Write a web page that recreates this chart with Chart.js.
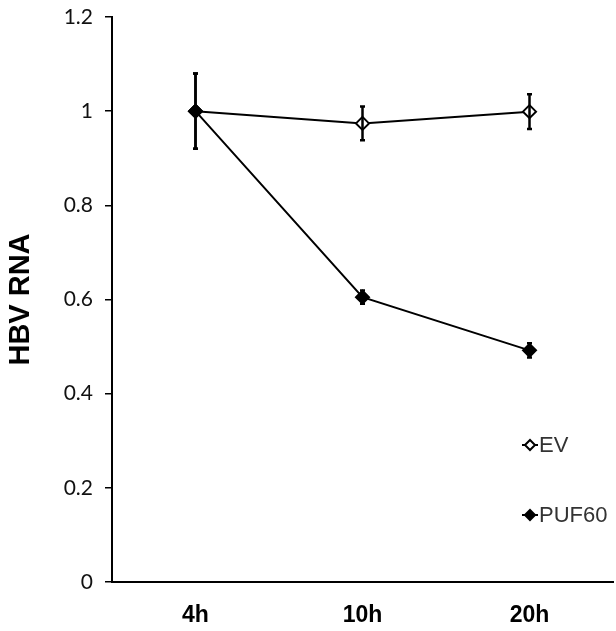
<!DOCTYPE html>
<html>
<head>
<meta charset="utf-8">
<script src="https://cdn.jsdelivr.net/npm/chart.js@4.4.1/dist/chart.umd.min.js"></script>
<style>
  html, body { margin: 0; padding: 0; background: #fff; }
  #wrap { width: 616px; height: 631px; }
</style>
</head>
<body>
<div id="wrap"><canvas id="c" width="616" height="631"></canvas></div>
<script>
// time points
const timePoints = ['4h', '10h', '20h'];
// empty vector
const evMean = [1.0, 0.974, 0.999];
const evErr = [0.08, 0.036, 0.037];
// PUF60
const pufMean = [1.0, 0.605, 0.492];
const pufErr = [0.08, 0.014, 0.015];
// y axis labels
const yTickLabels = ['0', '0.2', '0.4', '0.6', '0.8', '1', '1.2'];
const legendNames = ['EV', 'PUF60'];

// error bars drawn on top of the lines
const errorBars = {
    id: 'errorBars',
    afterDatasetsDraw(chart) {
        const ctx = chart.ctx;
        const y = chart.scales.y;
        chart.data.datasets.forEach((ds, i) => {
            const meta = chart.getDatasetMeta(i);
            meta.data.forEach((pt, j) => {
                const e = ds.errors[j];
                const top = y.getPixelForValue(ds.data[j] + e);
                const bot = y.getPixelForValue(ds.data[j] - e);
                ctx.save();
                ctx.strokeStyle = '#000';
                ctx.lineWidth = 2.5;
                ctx.beginPath();
                ctx.moveTo(pt.x, top); ctx.lineTo(pt.x, bot);
                ctx.moveTo(pt.x - 2.5, top); ctx.lineTo(pt.x + 2.5, top);
                ctx.moveTo(pt.x - 2.5, bot); ctx.lineTo(pt.x + 2.5, bot);
                ctx.stroke();
                ctx.restore();
            });
        });
    }
};

// legend like the excel one, inside the plot at lower right
const diamondLegend = {
    id: 'diamondLegend',
    afterDraw(chart) {
        const ctx = chart.ctx;
        const ca = chart.chartArea;
        const rows = [ca.bottom - 137, ca.bottom - 67];
        chart.data.datasets.forEach((ds, i) => {
            const cx = ca.right - 83, cy = rows[i];
            ctx.save();
            ctx.strokeStyle = '#000';
            ctx.lineWidth = 2;
            ctx.beginPath();
            ctx.moveTo(cx - 8, cy); ctx.lineTo(cx + 8, cy);
            ctx.stroke();
            ctx.beginPath();
            ctx.moveTo(cx - 5, cy); ctx.lineTo(cx, cy - 5);
            ctx.lineTo(cx + 5, cy); ctx.lineTo(cx, cy + 5);
            ctx.closePath();
            ctx.fillStyle = ds.pointBackgroundColor;
            ctx.fill();
            ctx.stroke();
            ctx.fillStyle = '#333';
            ctx.font = '22px "Liberation Sans", Arial, sans-serif';
            ctx.textBaseline = 'middle';
            ctx.textAlign = 'left';
            ctx.fillText(legendNames[i], cx + 9, cy + 1);
            ctx.restore();
        });
    }
};

new Chart(document.getElementById('c').getContext('2d'), {
    type: 'line',
    data: {
        labels: timePoints,
        datasets: [
            {
                label: 'EV',
                data: evMean,
                errors: evErr,
                borderColor: '#000',
                borderWidth: 2,
                pointStyle: 'rectRot',
                pointRadius: 6.5,
                pointBorderWidth: 2,
                pointBorderColor: '#000',
                pointBackgroundColor: '#fff',
                order: 2
            },
            {
                label: 'PUF60',
                data: pufMean,
                errors: pufErr,
                borderColor: '#000',
                borderWidth: 2,
                pointStyle: 'rectRot',
                pointRadius: 6.5,
                pointBorderWidth: 2,
                pointBorderColor: '#000',
                pointBackgroundColor: '#000',
                order: 1
            }
        ]
    },
    options: {
        responsive: false,
        animation: false,
        devicePixelRatio: 1,
        layout: { autoPadding: false, padding: { top: 17, right: 3, left: 0, bottom: 0 } },
        plugins: { legend: { display: false }, tooltip: { enabled: false } },
        scales: {
            x: {
                offset: true,
                grid: { display: false },
                border: { display: true, color: '#000', width: 2 },
                ticks: {
                    color: '#000',
                    padding: 12,
                    font: { family: '"Liberation Sans", Arial, sans-serif', size: 23, weight: 'bold' }
                },
                afterFit(s) {
                    s.height = 49;
                    s.paddingLeft = 0; s.paddingRight = 0;
                }
            },
            y: {
                min: 0,
                max: 1.2,
                ticks: {
                    stepSize: 0.2,
                    color: '#111',
                    padding: 12,
                    font: { family: 'Lato, "Open Sans", sans-serif', size: 21 },
                    callback: (v, i) => yTickLabels[i]
                },
                grid: { drawOnChartArea: false, tickLength: 7, color: '#000', lineWidth: 1.5 },
                border: { display: true, color: '#000', width: 2 },
                title: {
                    display: true,
                    text: 'HBV RNA',
                    color: '#000',
                    padding: { top: 4, bottom: 0 },
                    font: { family: '"Liberation Sans", Arial, sans-serif', size: 29, weight: 'bold' }
                },
                afterFit(s) {
                    s.width = 112;
                    s.paddingTop = 0; s.paddingBottom = 0;
                }
            }
        }
    },
    plugins: [errorBars, diamondLegend]
});
</script>
</body>
</html>
